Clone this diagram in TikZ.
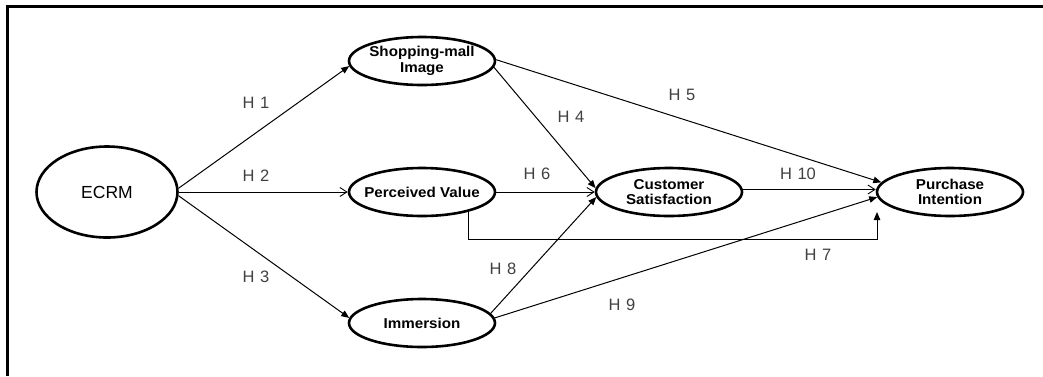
\documentclass[tikz,border=0pt]{standalone}
\usepackage{fontspec}
\setmainfont{Liberation Sans}
\newfontfamily\constructfont{Liberation Sans}[FakeStretch=1.06]
\usetikzlibrary{arrows.meta,shapes.geometric,calc}
\begin{document}
\begin{tikzpicture}[x=1pt,y=-1pt,
  construct/.style={ellipse,draw,line width=2.6pt,minimum width=146pt,minimum height=48pt,
    inner xsep=-25pt,inner ysep=0pt,align=center,
    font=\constructfont\fontsize{14.3}{15.5}\selectfont\bfseries},
  link/.style={line width=1pt},
  solidtip/.style={link,-{Triangle[length=8pt,width=6.5pt]}},
  opentip/.style={link,-{Straight Barb[length=7pt,width=9pt,line width=0.9pt]}},
  hyp/.style={font=\fontsize{16.5}{18}\selectfont,text=black!75,inner sep=0pt}]
\useasboundingbox (0,0) rectangle (1043,376);

% frame (top and left edges)
\draw[line width=3pt] (7,376) -- (7,6.5) -- (1043,6.5);

% constructs
\node[construct,minimum width=141pt,minimum height=91pt,inner sep=0pt,
      font=\fontsize{17.5}{20}\selectfont] (ecrm) at (107,192) {ECRM};
\node[construct] (shop) at (422,61)  {Shopping-mall\\Image};
\node[construct] (pv)   at (422,192) {Perceived Value};
\node[construct] (imm)  at (422,323) {Immersion};
\node[construct] (cs)   at (669,192) {Customer\\Satisfaction};
\node[construct] (pi)   at (950,192) {Purchase\\Intention};

% hypothesised paths
\draw[solidtip] (ecrm.3)   -- (shop.184);
\draw[opentip]  (ecrm.east) -- (pv.west);
\draw[solidtip] (ecrm.357) -- (imm.176);
\draw[solidtip] (shop.355) -- (cs.177);
\draw[solidtip] (shop.1)   -- (pi.172);
\draw[opentip]  (pv.east)  -- (cs.west);
\coordinate (h7tip) at (877,212);
\draw[solidtip] (pv.337) |- ($(h7tip)+(0,27)$) -- (h7tip);
\draw[solidtip] (imm.8)    -- (cs.184);
\draw[solidtip] (imm.4)    -- (pi.184);
\draw[opentip]  ([yshift=2.5pt]cs.east) -- ([yshift=2.5pt]pi.west);

% path labels
\node[hyp] (l1)  at (256,103) {H\,\,1};
\node[hyp] (l2)  at (256,176) {H\,\,2};
\node[hyp] (l3)  at (256,277) {H\,\,3};
\node[hyp] (l4)  at (571,117) {H\,\,4};
\node[hyp] (l5)  at (682,95)  {H\,\,5};
\node[hyp] (l6)  at (537,174) {H\,\,6};
\node[hyp] (l7)  at (818,255) {H\,\,7};
\node[hyp] (l8)  at (503,269) {H\,\,8};
\node[hyp] (l9)  at (622,305) {H\,\,9};
\node[hyp] (l10) at (798,174) {H\,\,10};
\end{tikzpicture}
\end{document}
